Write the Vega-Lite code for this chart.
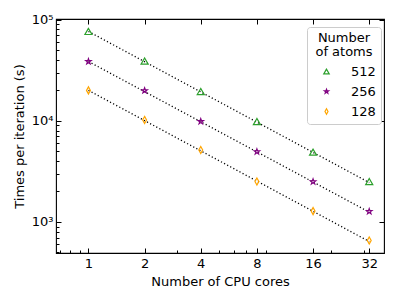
{
  "$schema": "https://vega.github.io/schema/vega-lite/v6.json",
  "width": 328,
  "height": 234,
  "autosize": "none",
  "padding": {"left": 56, "top": 19, "right": 15, "bottom": 46},
  "background": "white",
  "config": {
    "view": {"stroke": "black", "strokeWidth": 1.1},
    "font": "DejaVu Sans",
    "axis": {
      "domain": false, "grid": false, "tickColor": "black", "tickWidth": 1,
      "labelColor": "black", "titleColor": "black",
      "labelFont": "DejaVu Sans", "titleFont": "DejaVu Sans",
      "labelFontSize": 13, "titleFontSize": 13, "titleFontWeight": "normal"
    },
    "legend": {
      "labelFont": "DejaVu Sans", "titleFont": "DejaVu Sans",
      "labelFontSize": 13, "titleFontSize": 13, "titleFontWeight": "normal",
      "labelColor": "black", "titleColor": "black"
    }
  },
  "datasets": {
    "pts": [
      {"cores": 1, "time": 76500, "atoms": "512"},
      {"cores": 2, "time": 39000, "atoms": "512"},
      {"cores": 4, "time": 19500, "atoms": "512"},
      {"cores": 8, "time": 9840, "atoms": "512"},
      {"cores": 16, "time": 4900, "atoms": "512"},
      {"cores": 32, "time": 2510, "atoms": "512"},
      {"cores": 1, "time": 38600, "atoms": "256"},
      {"cores": 2, "time": 19900, "atoms": "256"},
      {"cores": 4, "time": 9850, "atoms": "256"},
      {"cores": 8, "time": 4950, "atoms": "256"},
      {"cores": 16, "time": 2500, "atoms": "256"},
      {"cores": 32, "time": 1270, "atoms": "256"},
      {"cores": 1, "time": 20000, "atoms": "128"},
      {"cores": 2, "time": 10200, "atoms": "128"},
      {"cores": 4, "time": 5150, "atoms": "128"},
      {"cores": 8, "time": 2510, "atoms": "128"},
      {"cores": 16, "time": 1280, "atoms": "128"},
      {"cores": 32, "time": 655, "atoms": "128"}
    ],
    "fit": [
      {"cores": 1, "time": 76500, "atoms": "512"},
      {"cores": 32, "time": 2450, "atoms": "512"},
      {"cores": 1, "time": 38600, "atoms": "256"},
      {"cores": 32, "time": 1250, "atoms": "256"},
      {"cores": 1, "time": 20000, "atoms": "128"},
      {"cores": 32, "time": 640, "atoms": "128"}
    ]
  },
  "resolve": {"axis": {"x": "independent", "y": "independent"}},
  "layer": [
    {
      "data": {"name": "fit"},
      "mark": {"type": "line", "color": "black", "strokeDash": [1.2, 2.3], "strokeWidth": 1.3},
      "encoding": {
        "x": {
          "field": "cores", "type": "quantitative",
          "scale": {"type": "log", "base": 2, "domain": [0.67, 38.4], "nice": false},
          "axis": {"orient": "bottom", "values": [1, 2, 4, 8, 16, 32], "format": "d", "tickSize": -5, "labelPadding": 9, "title": "Number of CPU cores", "titlePadding": 5}
        },
        "y": {
          "field": "time", "type": "quantitative",
          "scale": {"type": "log", "domain": [493, 101600], "nice": false},
          "axis": {"orient": "left", "values": [1000, 10000, 100000], "labelExpr": "datum.value == 1000 ? '10³' : datum.value == 10000 ? '10⁴' : '10⁵'", "tickSize": -5, "labelPadding": 8, "title": "Times per iteration (s)", "titlePadding": 5}
        },
        "detail": {"field": "atoms"}
      }
    },
    {
      "data": {"name": "pts"},
      "mark": {"type": "point", "filled": false, "strokeWidth": 1.2, "size": 50, "opacity": 1},
      "encoding": {
        "x": {
          "field": "cores", "type": "quantitative",
          "scale": {"type": "log", "base": 2, "domain": [0.67, 38.4], "nice": false},
          "axis": {"orient": "bottom", "values": [0.7, 0.8, 0.9, 3, 5, 6, 7, 9, 20, 30], "labels": false, "tickSize": -3, "title": null}
        },
        "y": {
          "field": "time", "type": "quantitative",
          "scale": {"type": "log", "domain": [493, 101600], "nice": false},
          "axis": {"orient": "left", "values": [500, 600, 700, 800, 900, 2000, 3000, 4000, 5000, 6000, 7000, 8000, 9000, 20000, 30000, 40000, 50000, 60000, 70000, 80000, 90000], "labels": false, "tickSize": -3, "title": null}
        },
        "color": {
          "field": "atoms", "type": "nominal",
          "scale": {"domain": ["512", "256", "128"], "range": ["#2ca02c", "#800080", "#ffa500"]},
          "legend": {
            "title": ["Number", "of atoms"], "orient": "none", "legendX": 251, "legendY": 8,
            "titleAnchor": "middle", "titleAlign": "center", "titlePadding": 6, "titleLineHeight": 14,
            "fillColor": "white", "strokeColor": "#cccccc", "cornerRadius": 3, "padding": 5,
            "rowPadding": 6, "labelOffset": 18, "symbolOffset": 8, "symbolSize": 30, "symbolStrokeWidth": 1.2
          }
        },
        "shape": {
          "field": "atoms", "type": "nominal",
          "scale": {"domain": ["512", "256", "128"], "range": ["triangle-up", "M0,-0.8L0.19,-0.26L0.77,-0.25L0.31,0.1L0.48,0.65L0,0.32L-0.48,0.65L-0.31,0.1L-0.77,-0.25L-0.19,-0.26Z", "M0,-1L0.55,0L0,1L-0.55,0Z"]},
          "legend": {
            "title": ["Number", "of atoms"], "orient": "none", "legendX": 251, "legendY": 8,
            "titleAnchor": "middle", "titleAlign": "center", "titlePadding": 6, "titleLineHeight": 14,
            "fillColor": "white", "strokeColor": "#cccccc", "cornerRadius": 3, "padding": 5,
            "rowPadding": 6, "labelOffset": 18, "symbolOffset": 8, "symbolSize": 30, "symbolStrokeWidth": 1.2
          }
        }
      }
    },
    {
      "data": {"name": "pts"},
      "mark": {"type": "point", "opacity": 0},
      "encoding": {
        "x": {
          "field": "cores", "type": "quantitative",
          "scale": {"type": "log", "base": 2, "domain": [0.67, 38.4], "nice": false},
          "axis": {"orient": "top", "values": [1, 2, 4, 8, 16, 32], "labels": false, "tickSize": -5, "title": null}
        },
        "y": {
          "field": "time", "type": "quantitative",
          "scale": {"type": "log", "domain": [493, 101600], "nice": false},
          "axis": {"orient": "right", "values": [1000, 10000, 100000], "labels": false, "tickSize": -5, "title": null}
        }
      }
    }
  ]
}
